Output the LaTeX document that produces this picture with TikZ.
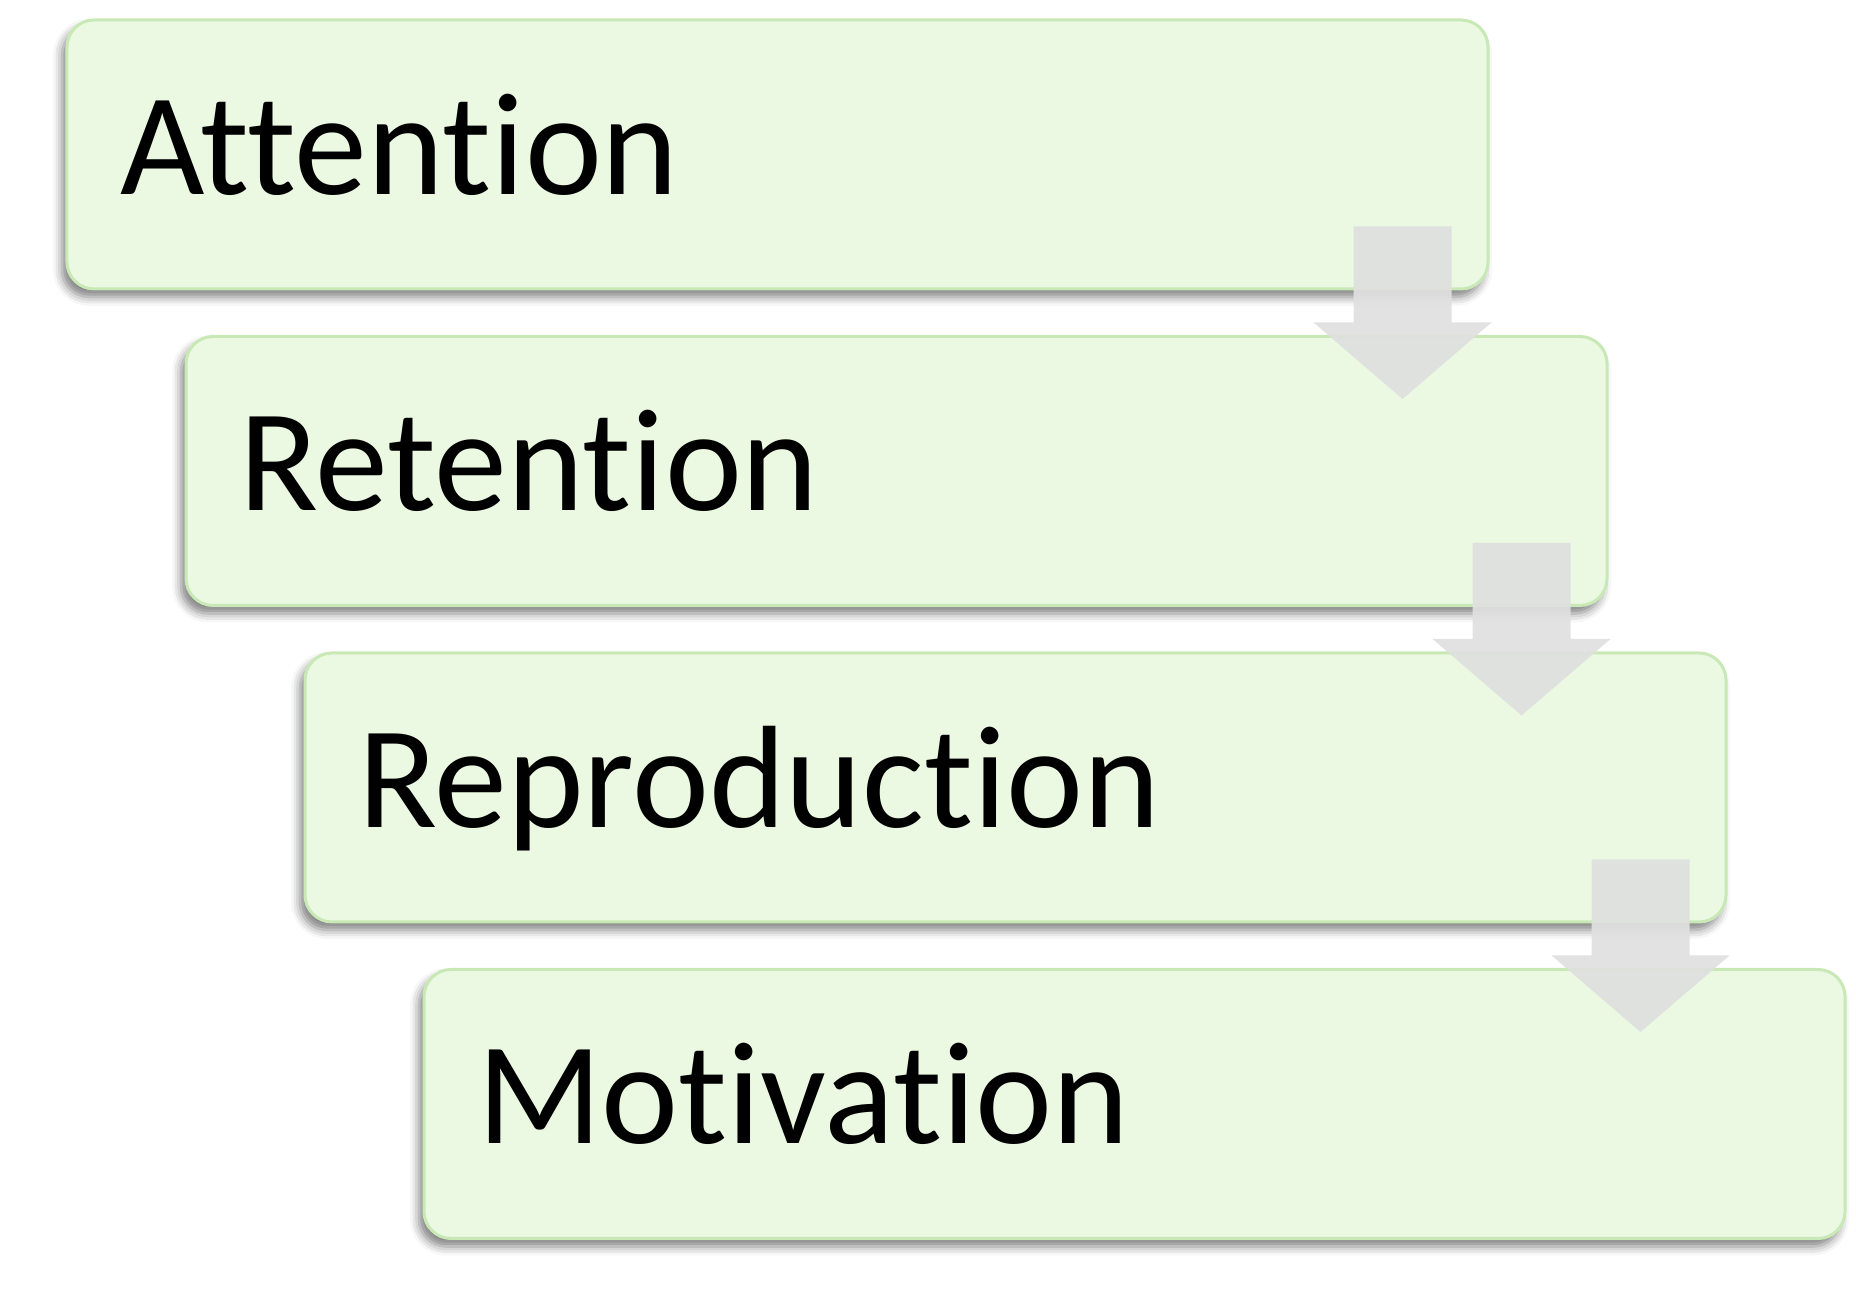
\documentclass[tikz,border=0pt]{standalone}
\usepackage{fontspec}
\setmainfont{Carlito}[Ligatures={NoCommon,NoRare,NoDiscretionary}]
\usetikzlibrary{calc,shadows.blur}

\definecolor{boxfill}{RGB}{235,248,226}
\definecolor{boxline}{RGB}{200,233,182}
\definecolor{arrowgray}{RGB}{223,224,223}

\begin{document}
\begin{tikzpicture}[
        stage/.style={draw=boxline, line width=0.03cm, fill=boxfill, rounded corners=0.27cm,
          minimum width=14.21cm, minimum height=2.69cm, inner xsep=0.53cm, inner ysep=0pt,
          text width=13.15cm, align=left, text height=0.80cm, text depth=0pt,
          font=\fontsize{41.5}{41.5}\selectfont,
          blur shadow={shadow xshift=-0.05cm, shadow yshift=-0.08cm,
            shadow blur radius=0.09cm, shadow opacity=50}},
        flow/.style={fill=arrowgray, fill opacity=0.92}]
        \useasboundingbox (0,0) rectangle (18.56,13.05);

        \node [stage] (att) at (7.775,11.505)  {Attention};     %stage 1
        \node [stage] (ret) at (8.965,8.34)    {Retention};     %stage 2
        \node [stage] (rep) at (10.155,5.175)  {Reproduction};  %stage 3
        \node [stage] (mot) at (11.345,2.01)   {Motivation};    %stage 4

        % block arrows
        \fill [flow] ($(att.south east)+(-1.36,0.64)$) -- ($(att.south east)+(-0.38,0.64)$)
          -- ($(att.south east)+(-0.38,-0.32)$) -- ($(att.south east)+(0.02,-0.32)$)
          -- ($(ret.north east)+(-2.06,-0.64)$)
          -- ($(att.south east)+(-1.76,-0.32)$) -- ($(att.south east)+(-1.36,-0.32)$) -- cycle;
        \fill [flow] ($(ret.south east)+(-1.36,0.64)$) -- ($(ret.south east)+(-0.38,0.64)$)
          -- ($(ret.south east)+(-0.38,-0.32)$) -- ($(ret.south east)+(0.02,-0.32)$)
          -- ($(rep.north east)+(-2.06,-0.64)$)
          -- ($(ret.south east)+(-1.76,-0.32)$) -- ($(ret.south east)+(-1.36,-0.32)$) -- cycle;
        \fill [flow] ($(rep.south east)+(-1.36,0.64)$) -- ($(rep.south east)+(-0.38,0.64)$)
          -- ($(rep.south east)+(-0.38,-0.32)$) -- ($(rep.south east)+(0.02,-0.32)$)
          -- ($(mot.north east)+(-2.06,-0.64)$)
          -- ($(rep.south east)+(-1.76,-0.32)$) -- ($(rep.south east)+(-1.36,-0.32)$) -- cycle;
\end{tikzpicture}
\end{document}
